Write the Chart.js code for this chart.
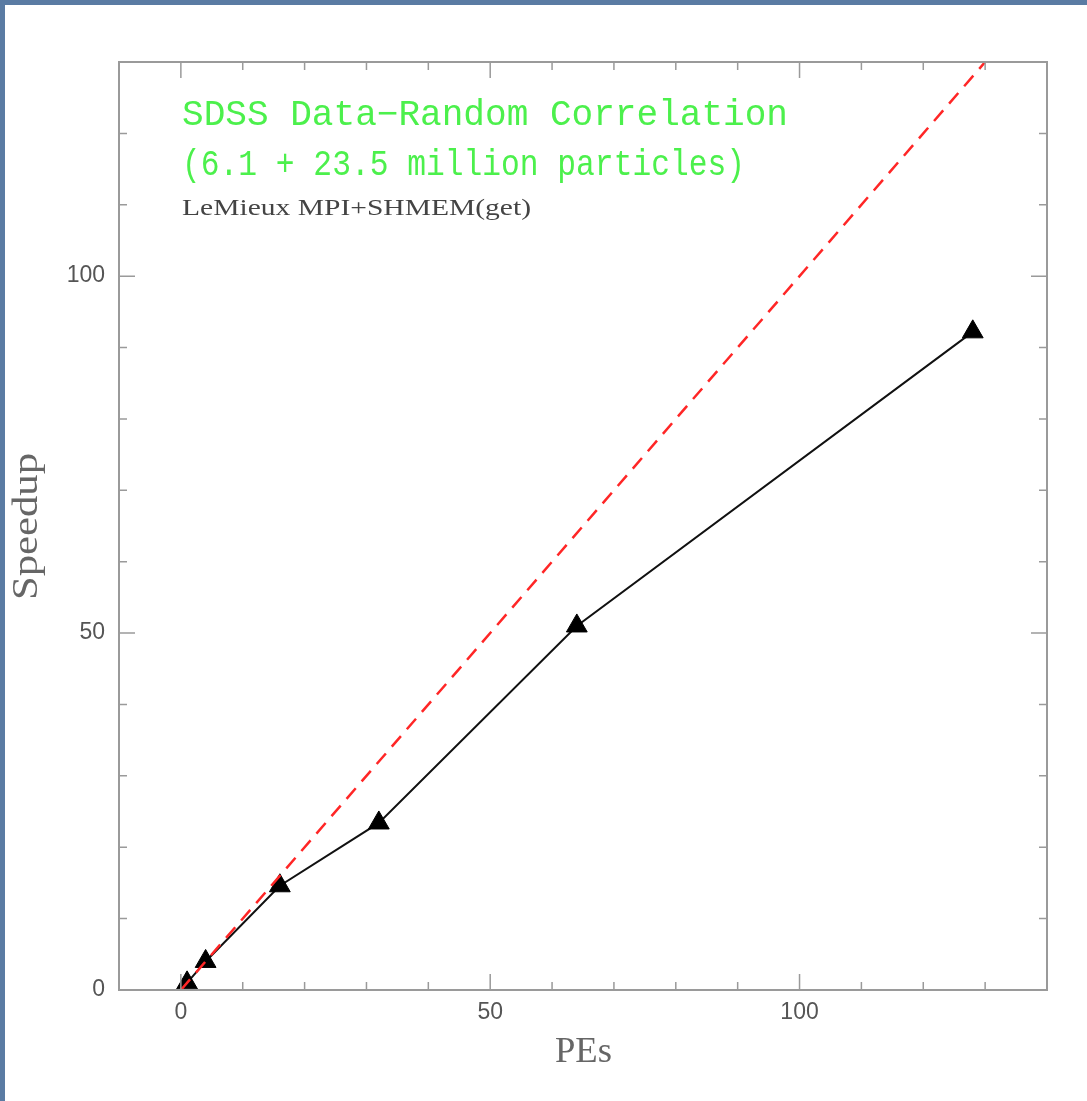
<!DOCTYPE html>
<html>
<head>
<meta charset="utf-8">
<script src="https://cdn.jsdelivr.net/npm/chart.js@4.4.1/dist/chart.umd.min.js"></script>
<style>
  html, body { margin: 0; padding: 0; background: #ffffff; }
  #wrap { width: 1087px; height: 1101px; }
</style>
</head>
<body>
<div id="wrap"><canvas id="speedupChart"></canvas></div>
<script>
// ---- Données ----
const pes      = [1, 4, 16, 32, 64, 128];
const speedup  = [1, 4, 14.6, 23.4, 51, 92.2];
const idealX   = [0, 130];
const idealY   = [0, 130];
const xTickLabels = [0, 50, 100];
const yTickLabels = [0, 50, 100];

const title1 = "SDSS Data\u2212Random Correlation";
const title2 = "(6.1 + 23.5 million particles)";
const subtitle = "LeMieux MPI+SHMEM(get)";

const frameColor = "#9a9a9a";

// texte étiré horizontalement pour imiter la police Hershey
function fitText(ctx, text, x, y, font, width, color) {
    ctx.save();
    ctx.font = font;
    ctx.fillStyle = color;
    ctx.textBaseline = "alphabetic";
    const w = ctx.measureText(text).width;
    ctx.translate(x, y);
    ctx.scale(width / w, 1);
    ctx.fillText(text, 0, 0);
    ctx.restore();
}

// ---- Fond, cadre, graduations internes, textes ----
const decorPlugin = {
    id: "decor",
    beforeDraw(chart) {
        const ctx = chart.ctx;
        ctx.save();
        ctx.fillStyle = "#ffffff";
        ctx.fillRect(0, 0, chart.width, chart.height);
        ctx.fillStyle = "#5a7ba3";
        ctx.fillRect(0, 0, chart.width, 5);
        ctx.fillRect(0, 0, 5, chart.height);
        ctx.restore();
    },
    afterDatasetsDraw(chart) {
        const ctx = chart.ctx;
        const a = chart.chartArea;
        const xs = chart.scales.x, ys = chart.scales.y;
        ctx.save();
        ctx.strokeStyle = frameColor;
        ctx.lineWidth = 1.5;
        ctx.beginPath();
        xs.ticks.forEach(t => {
            if (t.value <= xs.min || t.value >= xs.max) return;
            const px = xs.getPixelForValue(t.value);
            const len = t.value % 50 === 0 ? 16 : 8;
            ctx.moveTo(px, a.bottom); ctx.lineTo(px, a.bottom - len);
            ctx.moveTo(px, a.top);    ctx.lineTo(px, a.top + len);
        });
        ys.ticks.forEach(t => {
            if (t.value <= ys.min || t.value >= ys.max) return;
            const py = ys.getPixelForValue(t.value);
            const len = t.value % 50 === 0 ? 16 : 8;
            ctx.moveTo(a.left, py);  ctx.lineTo(a.left + len, py);
            ctx.moveTo(a.right, py); ctx.lineTo(a.right - len, py);
        });
        ctx.stroke();
        ctx.lineWidth = 2;
        ctx.strokeRect(a.left, a.top, a.right - a.left, a.bottom - a.top);

        // titres
        fitText(ctx, title1, 182, 125, "36px 'Liberation Mono'", 606, "#4cf04c");
        fitText(ctx, title2, 182, 175, "37px 'Liberation Mono'", 563, "#4cf04c");
        fitText(ctx, subtitle, 182, 215, "23px 'Liberation Serif'", 349, "#444444");

        // titres des axes
        fitText(ctx, "PEs", 555, 1062, "35px 'Liberation Serif'", 57, "#666666");
        ctx.save();
        ctx.translate(37, 600);
        ctx.rotate(-Math.PI / 2);
        fitText(ctx, "Speedup", 0, 0, "35px 'Liberation Serif'", 147, "#666666");
        ctx.restore();
        ctx.restore();
    }
};

const tickFont = { family: "'Liberation Sans'", size: 23 };

new Chart(document.getElementById("speedupChart"), {
    type: "scatter",
    data: {
        datasets: [
            {
                label: "Idéal",
                data: idealX.map((x, i) => ({ x: x, y: idealY[i] })),
                showLine: true,
                borderColor: "#ff2626",
                borderWidth: 2.5,
                borderDash: [14, 9],
                pointRadius: 0
            },
            {
                label: "Speedup",
                data: pes.map((x, i) => ({ x: x, y: speedup[i] })),
                showLine: true,
                borderColor: "#111111",
                borderWidth: 2,
                pointStyle: "triangle",
                pointRadius: 12,
                pointBackgroundColor: "#000000",
                pointBorderColor: "#000000",
                pointBorderWidth: 1
            }
        ]
    },
    options: {
        responsive: true,
        maintainAspectRatio: false,
        animation: false,
        layout: { padding: { top: 62, right: 40, left: 0, bottom: 0 } },
        plugins: {
            legend: { display: false },
            tooltip: { enabled: false }
        },
        scales: {
            x: {
                type: "linear",
                min: -10,
                max: 140,
                grid: { display: false, drawTicks: false },
                border: { display: false },
                afterFit: s => { s.height = 111; },
                ticks: {
                    stepSize: 10,
                    autoSkip: false,
                    maxRotation: 0,
                    padding: 9,
                    color: "#555555",
                    font: tickFont,
                    callback: v => xTickLabels.includes(v) ? String(v) : ""
                }
            },
            y: {
                type: "linear",
                min: 0,
                max: 130,
                grid: { display: false, drawTicks: false },
                border: { display: false },
                afterFit: s => { s.width = 119; },
                ticks: {
                    stepSize: 10,
                    autoSkip: false,
                    padding: 14,
                    color: "#555555",
                    font: tickFont,
                    callback: v => yTickLabels.includes(v) ? String(v) : ""
                }
            }
        }
    },
    plugins: [decorPlugin]
});
</script>
</body>
</html>
